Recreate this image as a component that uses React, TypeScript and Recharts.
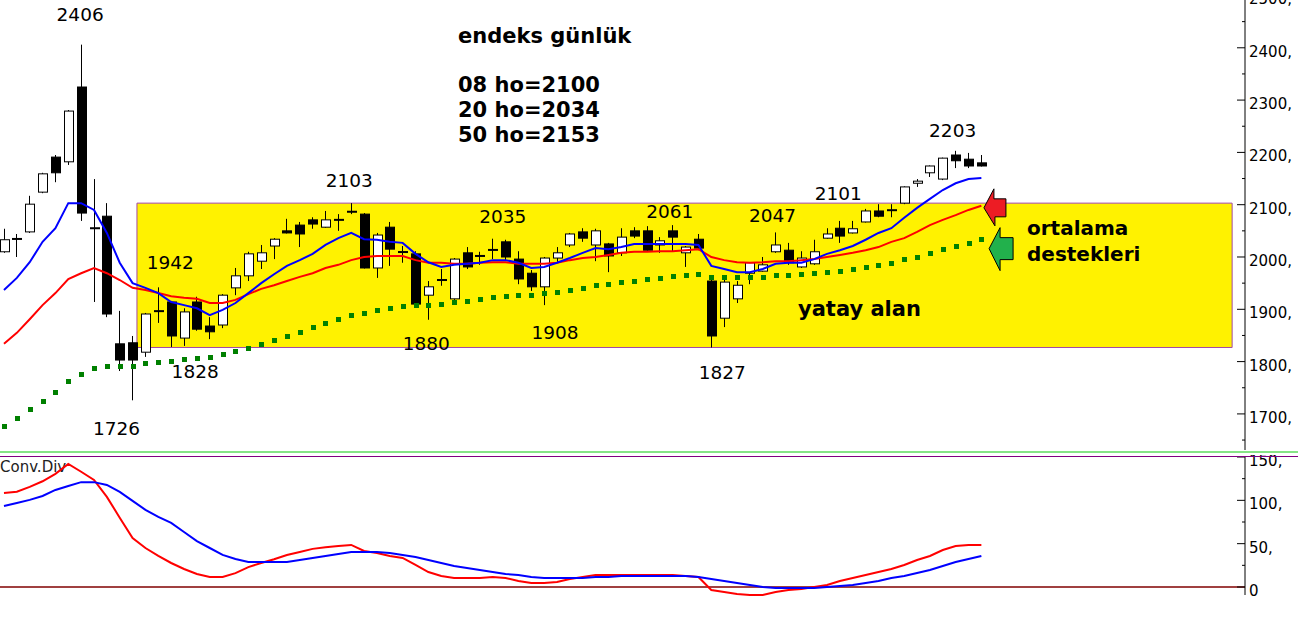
import React from 'react';
import {
  ComposedChart,
  Bar,
  Line,
  XAxis,
  YAxis,
  ReferenceArea,
  ReferenceDot,
  ReferenceLine,
} from 'recharts';

// ---------- DATA ----------
const opens = [
  2010, 2035, 2048, 2124, 2191, 2182, 2325, 2056, 2078, 1834,
  1836, 1818, 1897, 1914, 1845, 1914, 1868, 1870, 1941, 1964,
  1992, 2021, 2050, 2061, 2071, 2057, 2071, 2088, 2082, 1979,
  2057, 2008, 2006, 1927, 1956, 1920, 2008, 2002, 2014, 2029,
  1996, 1969, 1943, 1998, 2023, 2048, 2023, 2025, 2008, 2050,
  2050, 2023, 2050, 2008, 2034, 1954, 1883, 1920, 1969, 1973,
  2010, 2013, 1981, 1987, 2036, 2055, 2046, 2067, 2088, 2090,
  2103, 2141, 2161, 2149, 2195, 2187, 2180,
];
const highs = [
  2054, 2044, 2117, 2161, 2195, 2281, 2406, 2149, 2103, 1897,
  1849, 1893, 1942, 1916, 1902, 1924, 1885, 1929, 1979, 2010,
  2023, 2036, 2073, 2067, 2076, 2088, 2082, 2103, 2084, 2046,
  2067, 2021, 2011, 1954, 1977, 1998, 2019, 2010, 2035, 2033,
  2011, 1975, 2000, 2019, 2046, 2055, 2054, 2027, 2055, 2057,
  2059, 2038, 2061, 2021, 2044, 1956, 1956, 1954, 1990, 2000,
  2047, 2027, 2011, 2033, 2055, 2069, 2069, 2092, 2101, 2101,
  2135, 2149, 2175, 2190, 2203, 2199, 2195,
];
const lows = [
  2008, 2000, 2046, 2122, 2143, 2176, 2069, 1914, 1885, 1782,
  1726, 1809, 1874, 1828, 1830, 1859, 1843, 1864, 1927, 1954,
  1977, 1996, 2045, 2019, 2054, 2056, 2050, 2082, 1978, 1960,
  1983, 1989, 1908, 1880, 1945, 1918, 1977, 1985, 1996, 1994,
  1948, 1935, 1908, 1989, 2019, 2029, 1992, 1971, 2002, 2036,
  2012, 2008, 2011, 1981, 2013, 1827, 1866, 1912, 1948, 1972,
  2008, 1985, 1979, 1985, 2035, 2027, 2045, 2066, 2076, 2076,
  2101, 2134, 2153, 2147, 2170, 2170, 2173,
];
const closes = [
  2033, 2034, 2101, 2159, 2161, 2279, 2084, 2054, 1891, 1803,
  1803, 1891, 1896, 1849, 1895, 1862, 1857, 1927, 1964, 2006,
  2008, 2034, 2046, 2044, 2063, 2071, 2071, 2085, 1979, 2042,
  2015, 2011, 1910, 1943, 1956, 1996, 1981, 2002, 2013, 2000,
  1958, 1943, 1998, 2008, 2044, 2036, 2050, 2002, 2038, 2040,
  2013, 2031, 2038, 2019, 2017, 1849, 1952, 1946, 1989, 1985,
  2023, 1989, 1998, 2010, 2044, 2040, 2054, 2088, 2078, 2089,
  2134, 2145, 2174, 2189, 2184, 2174, 2174,
];
// 8-day average (blue)
const ma8 = [
  1937, 1960, 1990, 2029, 2055, 2103, 2103, 2090, 2046, 1989,
  1950, 1941, 1931, 1914, 1908, 1902, 1889, 1899, 1912, 1931,
  1950, 1967, 1983, 1994, 2006, 2023, 2036, 2046, 2034, 2033,
  2029, 2027, 2006, 1990, 1981, 1985, 1987, 1989, 1994, 1994,
  1989, 1979, 1981, 1989, 1998, 2008, 2017, 2015, 2019, 2025,
  2025, 2025, 2025, 2025, 2023, 1983, 1977, 1971, 1971, 1977,
  1987, 1989, 1989, 1996, 2006, 2013, 2021, 2033, 2046, 2055,
  2075, 2094, 2111, 2128, 2141, 2149, 2151,
];
// 20-day average (red)
const ma20 = [
  1834, 1855, 1881, 1908, 1931, 1958, 1969, 1979, 1969, 1956,
  1941, 1937, 1931, 1925, 1922, 1920, 1912, 1912, 1918, 1929,
  1939, 1946, 1954, 1962, 1969, 1979, 1985, 1994, 2000, 2002,
  2002, 2002, 1994, 1989, 1989, 1987, 1987, 1989, 1990, 1990,
  1987, 1987, 1987, 1989, 1994, 1998, 2000, 2004, 2008, 2010,
  2010, 2011, 2011, 2013, 2015, 2000, 1994, 1990, 1989, 1990,
  1992, 1992, 1994, 1996, 2000, 2004, 2008, 2013, 2019, 2029,
  2036, 2048, 2061, 2071, 2080, 2090, 2098,
];
// 50-day average (green dots)
const ma50 = [
  1677, 1692, 1709, 1725, 1742, 1763, 1776, 1788, 1792, 1792,
  1792, 1797, 1799, 1801, 1805, 1807, 1809, 1815, 1820, 1826,
  1834, 1841, 1849, 1857, 1866, 1874, 1881, 1889, 1893, 1899,
  1902, 1906, 1908, 1908, 1910, 1914, 1916, 1920, 1924, 1925,
  1927, 1927, 1931, 1933, 1937, 1941, 1946, 1948, 1952, 1954,
  1958, 1960, 1964, 1966, 1967, 1962, 1962, 1962, 1962, 1962,
  1966, 1966, 1967, 1969, 1971, 1973, 1977, 1981, 1985, 1989,
  1996, 2000, 2008, 2015, 2021, 2027, 2034,
];
// Conv.Div panel
const convRed = [
  108.5, 110, 115.5, 122, 130.5, 142, 133, 123.5, 104, 80,
  56.5, 45, 36, 27.7, 20.8, 15, 11.5, 11.5, 16, 23,
  27.7, 32, 37, 40.4, 44, 46, 47.3, 48.5, 41.6, 39.3,
  35.8, 33.5, 25.4, 17.3, 12.7, 10.4, 10.4, 10.4, 11.5, 10.4,
  7, 4.6, 4.6, 5.8, 9.2, 11.5, 13.9, 13.9, 13.9, 13.9,
  13.9, 13.9, 13.9, 12.7, 11.5, -3.5, -5.8, -8, -9.2, -9.2,
  -5.8, -3.5, -2.3, 0, 2.3, 7, 10.4, 13.9, 17.3, 20.8,
  25.4, 31.2, 35.8, 42.7, 47.3, 48.5, 48.5,
];
const convBlue = [
  93.5, 97, 100.5, 105, 112, 116.6, 121, 121, 117.8, 109.7,
  99.3, 89, 80.8, 73.9, 63.5, 53, 45, 37, 32.3, 28.9,
  28.9, 28.9, 28.9, 31.2, 33.5, 35.8, 38, 40.4, 40.4, 40.4,
  39.3, 37, 34.6, 31.2, 27.7, 24.2, 21.9, 19.6, 17.3, 15,
  13.9, 11.5, 10.4, 10.4, 10.4, 10.4, 11.5, 11.5, 12.7, 12.7,
  12.7, 12.7, 12.7, 12.7, 11.5, 9.2, 7, 4.6, 2.3, 0,
  -1.2, -1.2, -1.2, -1.2, 0, 1.2, 2.3, 4.6, 7, 10.4,
  12.7, 16.2, 19.6, 24.2, 28.9, 32.3, 35.8,
];

const priceTicks = [
  1650, 1700, 1750, 1800, 1850, 1900, 1950, 2000, 2050, 2100,
  2150, 2200, 2250, 2300, 2350, 2400, 2450, 2500,
];
const convTicks = [0, 25, 50, 75, 100, 125, 150];

// peak / trough labels: candle index, price, text
const peakLabels = [
  { i: 6, price: 2406, text: '2406' },
  { i: 12, price: 1942, text: '1942' },
  { i: 13, price: 1828, text: '1828' },
  { i: 10, price: 1726, text: '1726' },
  { i: 27, price: 2103, text: '2103' },
  { i: 33, price: 1880, text: '1880' },
  { i: 38, price: 2035, text: '2035' },
  { i: 42, price: 1908, text: '1908' },
  { i: 52, price: 2061, text: '2061' },
  { i: 55, price: 1827, text: '1827' },
  { i: 60, price: 2047, text: '2047' },
  { i: 69, price: 2101, text: '2101' },
  { i: 74, price: 2203, text: '2203' },
];
// label offsets (pixels) – layout only
const labelOffsets: Record<string, [number, number]> = {
  '2406': [-1, -30], '1942': [12, -25], '1828': [24, 25], '1726': [-16, 28],
  '2103': [-2, -23], '1880': [-2, 24], '2035': [10, -22], '1908': [11, 27],
  '2061': [-3, -14], '1827': [11, 25], '2047': [-3, -17], '2101': [-53, -11],
  '2203': [-3, -20],
};

const rangeBox = { x1: 10.34, x2: 95.5, low: 1827, high: 2103 };
const arrowRed = { i: 76.2, price: 2094 };
const arrowGreen = { i: 76.6, price: 2016 };

const titleText = 'endeks günlük';
const maTexts = ['08 ho=2100', '20 ho=2034', '50 ho=2153'];
const boxText = 'yatay alan';
const supportTexts = ['ortalama', 'destekleri'];

const priceRows = opens.map((o, i) => ({
  i,
  open: o,
  high: highs[i],
  low: lows[i],
  close: closes[i],
  ma8: ma8[i],
  ma20: ma20[i],
  ma50: ma50[i],
}));
const convRows = convRed.map((v, i) => ({ i, red: v, blue: convBlue[i] }));

const FONT = 'DejaVu Sans, Verdana, sans-serif';

// ---------- SHAPES ----------
const Candle = (props: any) => {
  const { x, y, width, height, payload } = props;
  if (!payload || x == null) return null;
  const top = Math.min(y, y + height);
  const h = Math.abs(height);
  const k = h / (payload.high - payload.low);
  const py = (v: number) => top + (payload.high - v) * k;
  const c = Math.round(x + width / 2);
  const yo = py(payload.open);
  const yc = py(payload.close);
  const bt = Math.min(yo, yc);
  const bb = Math.max(yo, yc);
  const up = payload.close >= payload.open;
  return (
    <g>
      <line x1={c + 0.5} x2={c + 0.5} y1={top} y2={top + h} stroke="#000" strokeWidth={1} />
      {bb - bt < 2 ? (
        <rect x={c - 4} y={(bt + bb) / 2 - 1} width={10} height={2} fill="#000" />
      ) : (
        <rect
          x={c - 3.5}
          y={bt}
          width={9}
          height={bb - bt}
          fill={up ? '#fff' : '#000'}
          stroke="#000"
          strokeWidth={1}
        />
      )}
    </g>
  );
};

const SquareDot = (p: any) => {
  if (p.cx == null || p.cy == null) return <g key={p.index} />;
  return (
    <rect key={p.index} x={Math.round(p.cx) - 2} y={Math.round(p.cy) - 2} width={5} height={5} fill="#008000" />
  );
};

const PriceTick = (props: any) => {
  const { x, y, payload } = props;
  const v = payload.value;
  const major = v % 100 === 0;
  return (
    <g>
      <line x1={x - (major ? 8 : 3)} x2={x} y1={y} y2={y} stroke="#000" strokeWidth={1} />
      {major && (
        <text x={x + 4} y={y + 4} dominantBaseline="central" fontFamily={FONT} fontSize={15} fill="#000">
          {`${v},`}
        </text>
      )}
    </g>
  );
};

const ConvTick = (props: any) => {
  const { x, y, payload } = props;
  const v = payload.value;
  const major = v % 50 === 0;
  return (
    <g>
      <line x1={x - (major ? 8 : 3)} x2={x} y1={y} y2={y} stroke="#000" strokeWidth={1} />
      {major && (
        <text x={x + 4} y={y + 4} dominantBaseline="central" fontFamily={FONT} fontSize={15} fill="#000">
          {v === 0 ? '0' : `${v},`}
        </text>
      )}
    </g>
  );
};

const makeLabel = (text: string) => (p: any) => {
  const [dx, dy] = labelOffsets[text] || [0, 0];
  return (
    <text
      x={p.cx + dx}
      y={p.cy + dy}
      textAnchor="middle"
      dominantBaseline="central"
      fontFamily={FONT}
      fontSize={18.5}
      fill="#000"
    >
      {text}
    </text>
  );
};

const RedArrow = (p: any) => {
  const { cx, cy } = p;
  const pts = [
    [0, 0], [10, -19], [10, -9], [22, -9], [22, 9], [11, 9], [11, 18],
  ].map(([a, b]) => `${cx + a},${cy + b}`).join(' ');
  return <polygon points={pts} fill="#ed1c24" stroke="#000" strokeWidth={1} />;
};

const GreenArrow = (p: any) => {
  const { cx, cy } = p;
  const pts = [
    [0, 0], [11, -21], [11, -11], [24, -11], [24, 11], [11, 11], [11, 22],
  ].map(([a, b]) => `${cx + a},${cy + b}`).join(' ');
  return <polygon points={pts} fill="#22b14c" stroke="#000" strokeWidth={1} />;
};

export default function App() {
  return (
    <div
      style={{
        position: 'absolute',
        left: 0,
        top: 0,
        width: 1298,
        height: 618,
        overflow: 'hidden',
        background: '#fff',
      }}
    >
      {/* price pane */}
      <div style={{ position: 'absolute', left: 0, top: -20 }}>
        <ComposedChart width={1298} height={470} data={priceRows} margin={{ top: 0, right: 0, bottom: 0, left: 0 }}>
          <XAxis type="number" dataKey="i" domain={[-0.31, 96.5]} hide allowDataOverflow />
          <YAxis
            orientation="right"
            width={53}
            domain={[1631, 2529.6]}
            ticks={priceTicks}
            interval={0}
            tick={<PriceTick />}
            tickLine={false}
            tickSize={0}
            tickMargin={0}
            axisLine={{ stroke: '#000' }}
            allowDataOverflow
          />
          <ReferenceArea
            x1={rangeBox.x1}
            x2={rangeBox.x2}
            y1={rangeBox.low}
            y2={rangeBox.high}
            fill="#fff200"
            fillOpacity={1}
            stroke="#a349a4"
            strokeWidth={1}
          />
          <Bar
            dataKey={(d: any) => [d.low, d.high]}
            barSize={10}
            shape={Candle}
            isAnimationActive={false}
          />
          <Line
            dataKey="ma50"
            stroke="none"
            dot={SquareDot}
            activeDot={false}
            isAnimationActive={false}
          />
          <Line dataKey="ma20" stroke="#ff0000" strokeWidth={2} dot={false} activeDot={false} isAnimationActive={false} />
          <Line dataKey="ma8" stroke="#0000ff" strokeWidth={2} dot={false} activeDot={false} isAnimationActive={false} />
          {peakLabels.map((l) => (
            <ReferenceDot key={l.text} x={l.i} y={l.price} r={1} shape={makeLabel(l.text)} />
          ))}
          <ReferenceDot x={arrowRed.i} y={arrowRed.price} r={1} shape={RedArrow} />
          <ReferenceDot x={arrowGreen.i} y={arrowGreen.price} r={1} shape={GreenArrow} />
        </ComposedChart>
      </div>

      {/* Conv.Div label (under lines) */}
      <div
        style={{
          position: 'absolute',
          left: 0,
          top: 460,
          fontFamily: FONT,
          fontSize: 15,
          lineHeight: '15px',
          color: '#222',
        }}
      >
        Conv.Div
      </div>

      {/* oscillator pane */}
      <div style={{ position: 'absolute', left: 0, top: 455 }}>
        <ComposedChart width={1298} height={158} data={convRows} margin={{ top: 2, right: 0, bottom: 18, left: 0 }}>
          <XAxis type="number" dataKey="i" domain={[-0.31, 96.5]} hide allowDataOverflow />
          <YAxis
            orientation="right"
            width={53}
            domain={[-9.23, 150]}
            ticks={convTicks}
            interval={0}
            tick={<ConvTick />}
            tickLine={false}
            tickSize={0}
            tickMargin={0}
            axisLine={{ stroke: '#000' }}
          />
          <ReferenceLine y={0} stroke="#800000" strokeWidth={1.5} />
          <Line dataKey="red" stroke="#ff0000" strokeWidth={2} dot={false} activeDot={false} isAnimationActive={false} />
          <Line dataKey="blue" stroke="#0000ff" strokeWidth={2} dot={false} activeDot={false} isAnimationActive={false} />
        </ComposedChart>
      </div>

      {/* overlay: separators and annotation texts */}
      <svg
        width={1298}
        height={618}
        style={{ position: 'absolute', left: 0, top: 0, pointerEvents: 'none' }}
      >
        <rect x={0} y={451} width={1298} height={2} fill="#86e486" />
        <rect x={0} y={456} width={1298} height={1} fill="#800080" />
        <g fontFamily={FONT} fontWeight="bold" fill="#000">
          <text x={458} y={43} fontSize={21}>{titleText}</text>
          {maTexts.map((t, k) => (
            <text key={t} x={458} y={92 + k * 25} fontSize={21}>{t}</text>
          ))}
          <text x={798} y={316} fontSize={21}>{boxText}</text>
          {supportTexts.map((t, k) => (
            <text key={t} x={1027} y={235 + k * 26} fontSize={20}>{t}</text>
          ))}
        </g>
      </svg>
    </div>
  );
}
